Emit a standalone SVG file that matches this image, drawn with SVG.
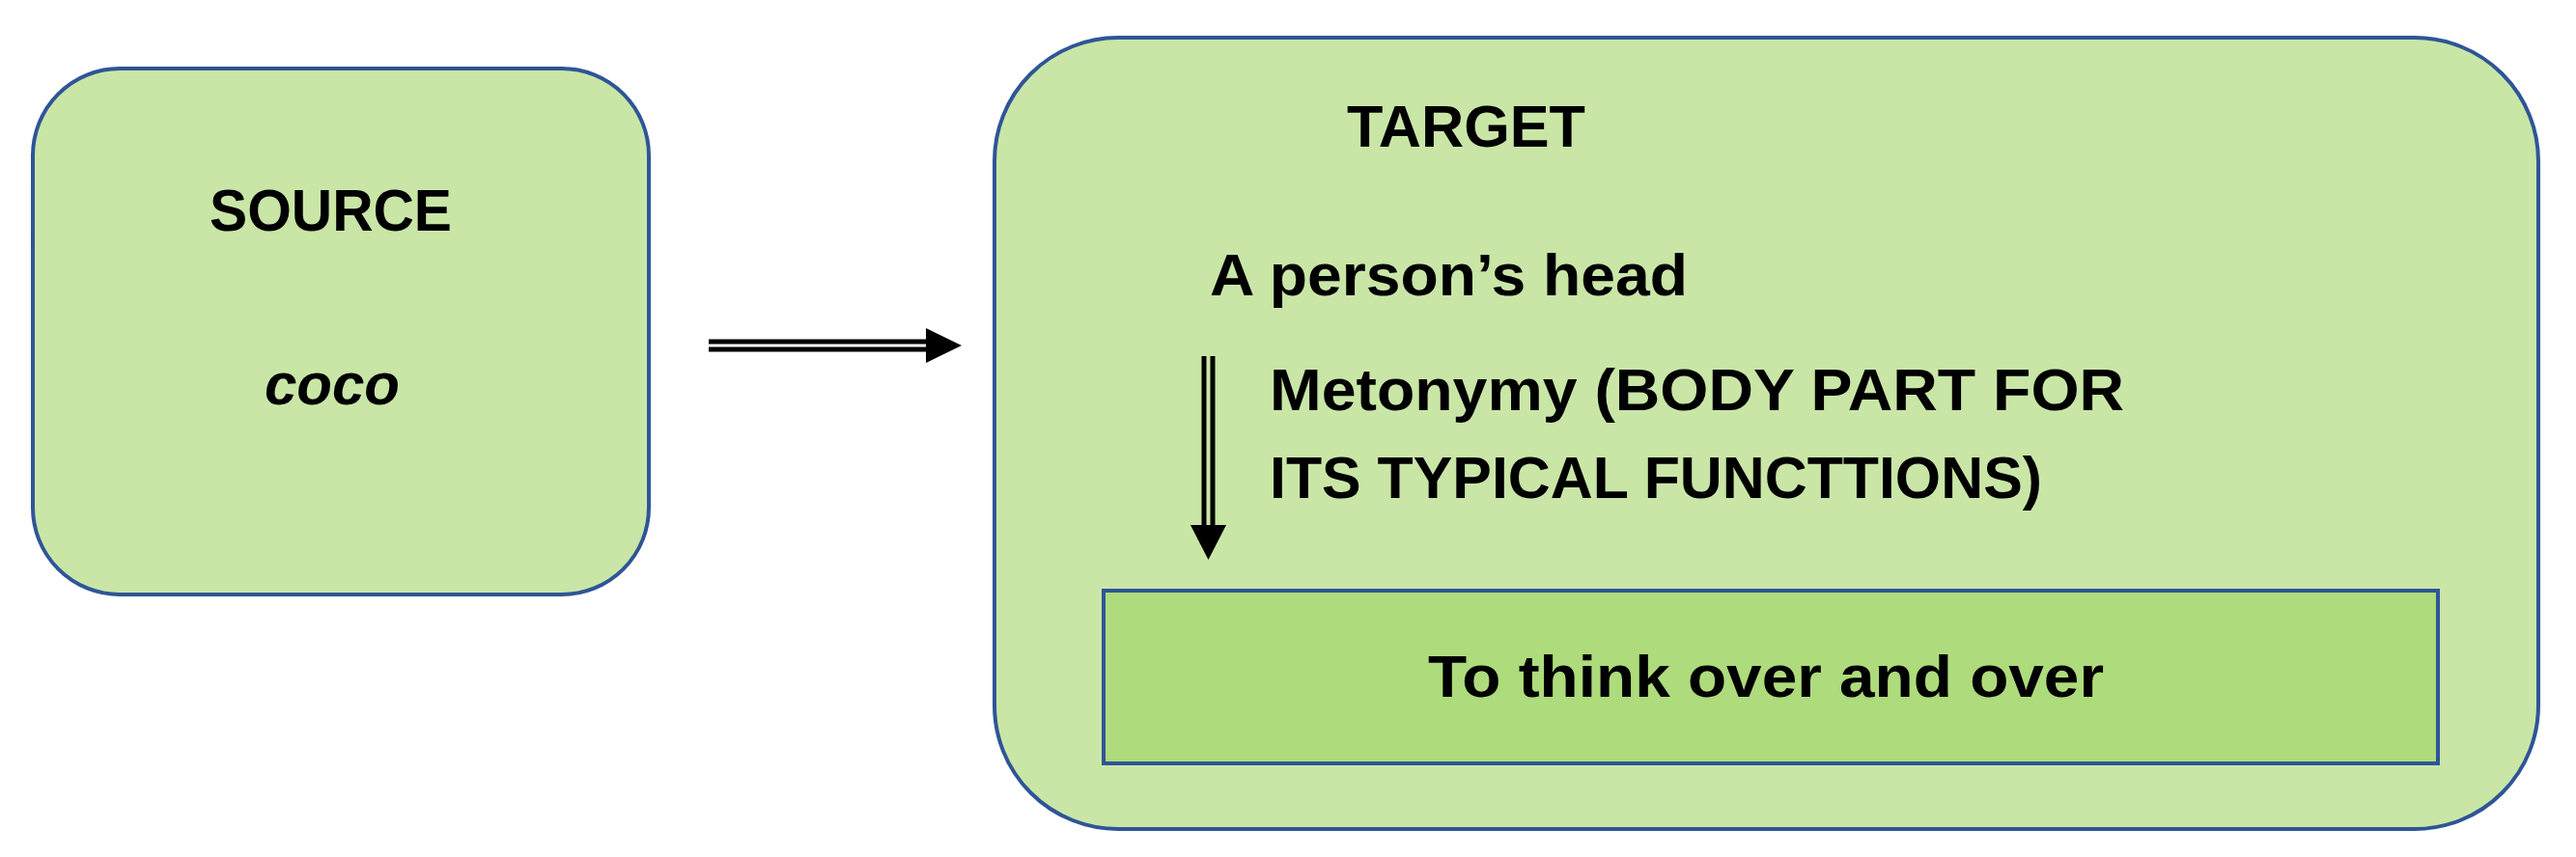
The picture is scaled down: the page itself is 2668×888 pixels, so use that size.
<svg xmlns="http://www.w3.org/2000/svg" width="2668" height="888" viewBox="0 0 2668 888">
<style>
.box{fill:#C9E6A7;stroke:#2F5597;stroke-width:4}
.inner{fill:#AEDB7B;stroke:#2F5597;stroke-width:4}
text{font-family:"Liberation Sans",Arial,sans-serif;font-weight:bold;font-size:62px;fill:#000}
.ln{stroke:#000;stroke-width:5;fill:none}
</style>
<rect width="2668" height="888" fill="#fff"/>
<g id="source">
<rect class="box" x="34" y="71" width="638" height="545" rx="90" ry="90"/>
<text x="217" y="239" textLength="251" lengthAdjust="spacingAndGlyphs">SOURCE</text>
<text x="274" y="419" font-style="italic" textLength="140" lengthAdjust="spacingAndGlyphs">coco</text>
</g>
<g id="target">
<rect class="box" x="1030" y="39" width="1599" height="820" rx="128" ry="128"/>
<text x="1395" y="152" textLength="247" lengthAdjust="spacingAndGlyphs">TARGET</text>
<text x="1253" y="306" textLength="495" lengthAdjust="spacingAndGlyphs">A person’s head</text>
<text x="1315" y="425" textLength="885" lengthAdjust="spacingAndGlyphs">Metonymy (BODY PART FOR</text>
<text x="1315" y="516" textLength="800" lengthAdjust="spacingAndGlyphs">ITS TYPICAL FUNCTTIONS)</text>
</g>
<g id="result">
<rect class="inner" x="1143" y="612" width="1382" height="179"/>
<text x="1479" y="722" textLength="700" lengthAdjust="spacingAndGlyphs">To think over and over</text>
</g>
<g id="connectors">
<line class="ln" x1="734" y1="354" x2="962" y2="354"/>
<line class="ln" x1="734" y1="362" x2="962" y2="362"/>
<polygon points="959,340 996,358 959,376" fill="#000"/>
<line class="ln" x1="1247" y1="369" x2="1247" y2="548" stroke-width="4"/>
<line class="ln" x1="1256" y1="369" x2="1256" y2="548" stroke-width="4"/>
<polygon points="1233,544 1270,544 1251.5,580" fill="#000"/>
</g>
</svg>
